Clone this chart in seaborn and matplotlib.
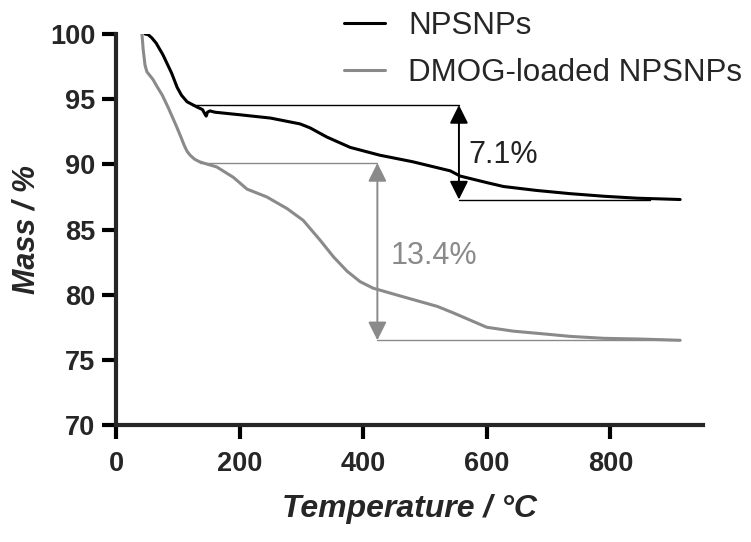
import numpy as np
import pandas as pd
import matplotlib
matplotlib.use("Agg")
import matplotlib.pyplot as plt
import seaborn as sns

# TGA curves
temp_np = [47, 52, 58, 65, 76, 90, 99, 106, 115, 125, 131, 140, 144, 146, 148, 152, 160, 201, 250,
           298, 314, 341, 379, 427, 480, 541, 557, 600, 627, 680, 735, 790, 844, 880, 913]
mass_np = [100.0, 99.95, 99.7, 99.3, 98.4, 97.0, 95.9, 95.3, 94.8, 94.55, 94.4, 94.2, 93.85, 93.7, 94.0, 94.1,
           94.0, 93.8, 93.55, 93.1, 92.8, 92.1, 91.3, 90.7, 90.2, 89.5, 89.1, 88.6, 88.3, 88.0,
           87.75, 87.55, 87.4, 87.35, 87.3]

temp_dmog = [42, 44, 47, 50, 55, 60, 66, 75, 85, 98, 105, 110, 115, 120, 127, 135, 145, 163, 190, 212,
             244, 277, 303, 330, 352, 374, 395, 416, 460, 520, 546, 600, 643, 690, 735, 790, 844,
             880, 913]
mass_dmog = [100.0, 98.8, 97.6, 97.1, 96.8, 96.5, 96.0, 95.3, 94.3, 92.9, 92.1, 91.5, 91.0, 90.7, 90.4,
             90.2, 90.05, 89.8, 89.0, 88.1, 87.5, 86.6, 85.7, 84.2, 82.9, 81.8, 81.0, 80.5, 79.9,
             79.1, 78.6, 77.5, 77.2, 77.0, 76.8, 76.65, 76.6, 76.55, 76.5]

labels = ["NPSNPs", "DMOG-loaded NPSNPs"]
colors = ["#000000", "#8a8a8a"]

# mass-loss brackets: (line start T, arrow T, line end T, upper mass, lower mass, label, label T, label mass)
loss_np = [123, 555, 865, 94.55, 87.3, "7.1%", 571, 90.7]
loss_dmog = [136, 423, 913, 90.1, 76.5, "13.4%", 444, 83.0]

df = pd.concat([
    pd.DataFrame({"Temperature": temp_np, "Mass": mass_np, "Sample": labels[0]}),
    pd.DataFrame({"Temperature": temp_dmog, "Mass": mass_dmog, "Sample": labels[1]}),
])

sns.set_style("ticks")
plt.rcParams["font.family"] = ["Liberation Sans", "DejaVu Sans"]

fig = plt.figure(figsize=(7.51, 5.42), dpi=100)
ax = fig.add_axes([116 / 751, 1 - 425 / 542, (703 - 116) / 751, (425 - 34) / 542])

sns.lineplot(data=df, x="Temperature", y="Mass", hue="Sample", palette=colors,
             hue_order=labels, linewidth=2.2, ax=ax, sort=False, estimator=None)

# brackets with double arrows
for loss, col in zip([loss_np, loss_dmog], colors):
    t0, ta, t1, up, low, txt, tx, ty = loss
    ax.plot([t0, ta], [up, up], color=col, lw=1.0)
    ax.plot([ta, t1], [low, low], color=col, lw=1.0)
    ax.annotate("", xy=(ta, low), xytext=(ta, up),
                arrowprops=dict(arrowstyle="<|-|>", color=col, lw=1.4,
                                mutation_scale=28, shrinkA=0, shrinkB=0))
    ax.text(tx, ty, txt, color="#222222" if col == "#000000" else col,
            fontsize=22, va="center", ha="left")

ax.set_xlim(0, 950)
ax.set_ylim(70, 100)
ax.set_xticks([0, 200, 400, 600, 800])
ax.set_yticks([70, 75, 80, 85, 90, 95, 100])
ax.tick_params(axis="both", labelsize=19.5, width=3, length=10, color="black")
ax.tick_params(axis="x", pad=9)
ax.tick_params(axis="y", pad=5)
for lab in ax.get_xticklabels() + ax.get_yticklabels():
    lab.set_fontweight("bold")
ax.set_xlabel("Temperature / °C", fontsize=23, fontweight="bold", style="italic", labelpad=12)
ax.set_ylabel("Mass / %", fontsize=22, fontweight="bold", style="italic", labelpad=6)
sns.despine(ax=ax)
for sp in ["left", "bottom"]:
    ax.spines[sp].set_linewidth(3)

sns.move_legend(ax, "upper left", bbox_to_anchor=(344 / 751, 1 - 11 / 542),
                bbox_transform=fig.transFigure, frameon=False, title=None,
                fontsize=22.5, handlelength=1.3, handletextpad=0.75,
                labelspacing=0.55, borderpad=0, borderaxespad=0)

fig.savefig("out.png", dpi=100)
